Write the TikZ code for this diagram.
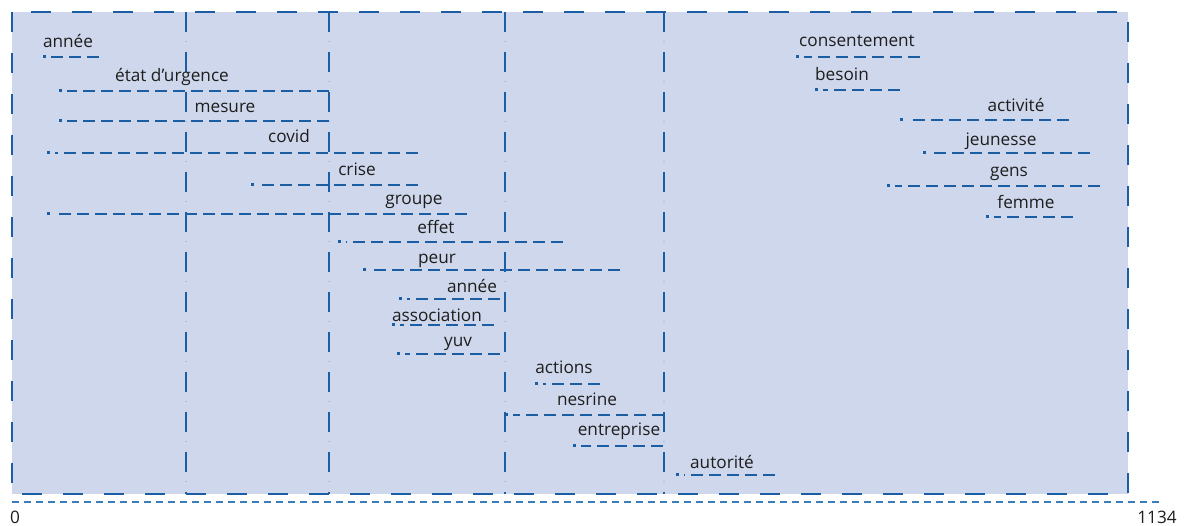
\documentclass[tikz,border=0pt]{standalone}
\usepackage{fontspec}
\setmainfont{Open Sans}
\definecolor{panel}{HTML}{CED7EB}
\definecolor{ink}{HTML}{1B5EA3}
\definecolor{axisblue}{HTML}{3C7EBB}
\definecolor{faintdot}{HTML}{A9BEDD}
\definecolor{labeltext}{HTML}{1E1E1E}

\tikzset{
  term/.style={font=\fontsize{17.2}{19}\selectfont, text=labeltext, anchor=base, inner sep=0pt},
  span/.style={draw=ink, line width=2.8pt, dash pattern=on 12pt off 6pt},
  spandot/.style={fill=ink},
  divider/.style={draw=ink, line width=2pt, dash pattern=on 20pt off 20pt},
  dividerdot/.style={draw=faintdot, line width=1.2pt, dash pattern=on 0pt off 29pt on 1.2pt off 9.8pt},
  frame/.style={draw=ink, line width=2pt, dash pattern=on 20pt off 21pt},
  axisline/.style={draw=axisblue, line width=2pt, dash pattern=on 7pt off 5pt},
}

% one term: name, line y, start x, end x, text, text centre x, text baseline y
\newcommand\tlspan[7]{%
  \coordinate (#1-a) at (#3,#2);
  \coordinate (#1-b) at (#4,#2);
  \fill[spandot] ({#3-1.5},{#2-1.5}) rectangle ({#3+1.5},{#2+1.5});
  \draw[span] (#1-b) -- ({#3+7},#2);
  \node[term] (#1) at (#6,#7) {#5};
}

\begin{document}
\begin{tikzpicture}[x=1pt,y=-1pt]
  \useasboundingbox (0,0) rectangle (1184,526);

  % panel
  \draw[frame, fill=panel] (12,12) rectangle (1128,494);

  % period dividers
  \foreach \xx/\nm in {186/d1, 329/d2, 505/d3, 664/d4} {
    \coordinate (\nm-top) at (\xx,12);
    \coordinate (\nm-bot) at (\xx,494);
    \draw[divider] (\nm-top) -- (\nm-bot);
    \draw[dividerdot] (\nm-top) -- (\nm-bot);
  }

  % terms
  \tlspan{t1}{57}{44}{99}{année}{68}{48}
  \tlspan{t2}{91}{60}{329}{état d’urgence}{172}{82}
  \tlspan{t3}{121}{60}{329}{mesure}{225}{113}
  \tlspan{t4}{153}{48}{418}{covid}{289}{143}
  \tlspan{t5}{185}{252}{418}{crise}{357}{176}
  \tlspan{t6}{214}{48}{467}{groupe}{414}{205}
  \tlspan{t7}{242}{339}{563}{effet}{436}{234}
  \tlspan{t8}{270}{364}{620}{peur}{437}{264}
  \tlspan{t9}{299}{400}{500}{année}{472}{293}
  \tlspan{t10}{325}{393}{494}{association}{437}{322}
  \tlspan{t11}{354}{398}{500}{yuv}{458}{347}
  \tlspan{t12}{384}{536}{600}{actions}{564}{374}
  \tlspan{t13}{415}{506}{664}{nesrine}{587}{406}
  \tlspan{t14}{446}{574}{663}{entreprise}{619}{436}
  \tlspan{t15}{475}{677}{775}{autorité}{722}{468}
  \tlspan{t16}{57}{797}{920}{consentement}{857}{47}
  \tlspan{t17}{90}{816}{900}{besoin}{842}{81}
  \tlspan{t18}{120}{901}{1069}{activité}{1016}{112}
  \tlspan{t19}{153}{924}{1090}{jeunesse}{1001}{146}
  \tlspan{t20}{186}{888}{1100}{gens}{1009}{177}
  \tlspan{t21}{217}{987}{1073}{femme}{1026}{209}

  % axis
  \coordinate (ax-a) at (12,502);
  \coordinate (ax-b) at (1162,502);
  \draw[axisline] (ax-a) -- (ax-b);
  \node[term] (ax0) at (15,523) {0};
  \node[term] (ax1) at (1157,523) {1134};
\end{tikzpicture}
\end{document}
